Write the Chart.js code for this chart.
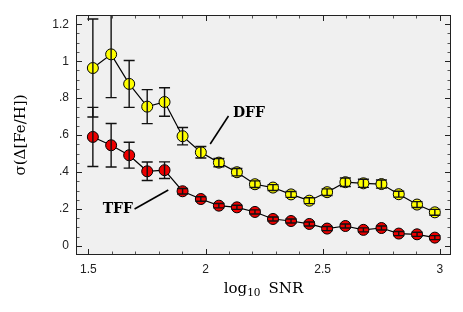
<!DOCTYPE html>
<html>
<head>
<meta charset="utf-8">
<script src="https://cdn.jsdelivr.net/npm/chart.js@4/dist/chart.umd.min.js"></script>
<style>
  html, body { margin: 0; padding: 0; background: #ffffff; }
  #wrap { width: 463px; height: 312px; position: relative; }
</style>
</head>
<body>
<div id="wrap"><canvas id="c" width="463" height="312"></canvas></div>
<script>
// ---- data ----
const logSNR = [1.519, 1.597, 1.674, 1.751, 1.825, 1.902, 1.980, 2.057, 2.134, 2.211,
                2.288, 2.365, 2.443, 2.519, 2.597, 2.674, 2.751, 2.825, 2.903, 2.979];
const dffSigma = [0.963, 1.037, 0.877, 0.754, 0.779, 0.594, 0.507, 0.451, 0.399, 0.334,
                  0.316, 0.279, 0.245, 0.291, 0.345, 0.339, 0.335, 0.280, 0.224, 0.182];
const dffErr = [0.265, 0.234, 0.127, 0.092, 0.077, 0.047, 0.031, 0.022, 0.020, 0.018,
                0.016, 0.016, 0.016, 0.018, 0.023, 0.022, 0.022, 0.016, 0.016, 0.016];
const tffSigma = [0.590, 0.545, 0.491, 0.404, 0.410, 0.296, 0.254, 0.218, 0.209, 0.184,
                  0.146, 0.135, 0.119, 0.094, 0.108, 0.087, 0.097, 0.067, 0.063, 0.045];
const tffErr = [0.160, 0.118, 0.070, 0.050, 0.045, 0.015, 0.012, 0.012, 0.011, 0.011,
                0.011, 0.011, 0.011, 0.011, 0.011, 0.011, 0.011, 0.011, 0.011, 0.011];
const xTickValues = [1.5, 2, 2.5, 3];
const yTickValues = [0, 0.2, 0.4, 0.6, 0.8, 1.0, 1.2];
const seriesNames = ['DFF', 'TFF'];
const yTitle = 'σ(Δ[Fe/H])';
const xTitleParts = ['log', '10', 'SNR'];

// ---- plugins ----
const bgPlugin = {
  id: 'bg',
  beforeDraw(chart) {
    const {ctx, chartArea: a} = chart;
    ctx.save();
    ctx.fillStyle = '#f0f0f0';
    ctx.fillRect(a.left, a.top, a.right - a.left, a.bottom - a.top);
    ctx.restore();
  }
};

const errorBarPlugin = {
  id: 'errbars',
  afterDatasetsDraw(chart) {
    const {ctx, chartArea: a, scales: {x, y}} = chart;
    ctx.save();
    ctx.beginPath();
    ctx.rect(a.left, a.top, a.right - a.left, a.bottom - a.top);
    ctx.clip();
    ctx.strokeStyle = '#111';
    ctx.lineWidth = 1.4;
    chart.data.datasets.forEach(ds => {
      ds.data.forEach((p, i) => {
        const e = ds.errors[i];
        const px = x.getPixelForValue(p.x);
        const yt = y.getPixelForValue(p.y + e);
        const yb = y.getPixelForValue(p.y - e);
        const w = 5.5;
        ctx.beginPath();
        ctx.moveTo(px, yt); ctx.lineTo(px, yb);
        ctx.moveTo(px - w, yt); ctx.lineTo(px + w, yt);
        ctx.moveTo(px - w, yb); ctx.lineTo(px + w, yb);
        ctx.stroke();
      });
    });
    ctx.restore();
  }
};

const framePlugin = {
  id: 'frame',
  afterDraw(chart) {
    const {ctx, chartArea: a, scales: {x, y}} = chart;
    ctx.save();
    // ticks
    const xs = [];
    for (let k = 15; k <= 30; k++) xs.push({v: k / 10, major: k % 5 === 0});
    const ys = [];
    for (let k = 0; k <= 24; k++) ys.push({v: k * 0.05, major: k % 4 === 0});
    xs.forEach(t => {
      const px = Math.round(x.getPixelForValue(t.v)) + 0.5;
      const L = t.major ? 6 : 3.5;
      ctx.strokeStyle = t.major ? '#222' : '#555';
      ctx.lineWidth = 1;
      ctx.beginPath();
      ctx.moveTo(px, a.bottom); ctx.lineTo(px, a.bottom - L);
      ctx.moveTo(px, a.top); ctx.lineTo(px, a.top + L);
      ctx.stroke();
    });
    ys.forEach(t => {
      const py = Math.round(y.getPixelForValue(t.v)) + 0.5;
      const L = t.major ? 6 : 3.5;
      ctx.strokeStyle = t.major ? '#222' : '#555';
      ctx.lineWidth = 1;
      ctx.beginPath();
      ctx.moveTo(a.left, py); ctx.lineTo(a.left + L, py);
      ctx.moveTo(a.right, py); ctx.lineTo(a.right - L, py);
      ctx.stroke();
    });
    // frame
    ctx.strokeStyle = '#222';
    ctx.lineWidth = 1;
    ctx.strokeRect(Math.round(a.left) + 0.5, Math.round(a.top) + 0.5,
                   Math.round(a.right - a.left) - 1, Math.round(a.bottom - a.top) - 1);

    // annotations (series labels with leader lines), in data coordinates
    ctx.fillStyle = '#000';
    ctx.strokeStyle = '#000';
    ctx.lineWidth = 1.6;
    ctx.font = 'bold 14px "DejaVu Serif"';
    ctx.textBaseline = 'middle';
    ctx.textAlign = 'left';
    const ann = [
      {text: seriesNames[0], tx: 2.117, ty: 0.718, l: [[2.098, 0.703], [2.020, 0.552]]},
      {text: seriesNames[1], tx: 1.561, ty: 0.200, l: [[1.697, 0.200], [1.841, 0.303]]}
    ];
    ann.forEach(an => {
      ctx.fillText(an.text, x.getPixelForValue(an.tx), y.getPixelForValue(an.ty));
      ctx.beginPath();
      ctx.moveTo(x.getPixelForValue(an.l[0][0]), y.getPixelForValue(an.l[0][1]));
      ctx.lineTo(x.getPixelForValue(an.l[1][0]), y.getPixelForValue(an.l[1][1]));
      ctx.stroke();
    });

    // x title with subscript
    const big = '15px "DejaVu Serif"', small = '10.5px "DejaVu Serif"';
    ctx.textBaseline = 'alphabetic';
    ctx.font = big; const w1 = ctx.measureText(xTitleParts[0]).width;
    ctx.font = small; const w2 = ctx.measureText(xTitleParts[1]).width;
    ctx.font = big; const w3 = ctx.measureText(xTitleParts[2]).width;
    const gap = 8;
    const total = w1 + w2 + gap + w3;
    let sx = (a.left + a.right) / 2 - total / 2;
    const base = 293;
    ctx.fillStyle = '#000';
    ctx.font = big; ctx.fillText(xTitleParts[0], sx, base); sx += w1;
    ctx.font = small; ctx.fillText(xTitleParts[1], sx, base + 3); sx += w2 + gap;
    ctx.font = big; ctx.fillText(xTitleParts[2], sx, base);
    ctx.restore();
  }
};

function fmtTick(v) {
  if (Math.abs(v) < 1e-9) return '0';
  let s = (Math.round(v * 10) / 10).toString();
  if (s.startsWith('0.')) s = s.slice(1);
  return s;
}

const mkPts = (ys) => logSNR.map((xv, i) => ({x: xv, y: ys[i]}));

new Chart(document.getElementById('c'), {
  type: 'scatter',
  data: {
    datasets: [
      {
        label: seriesNames[0], data: mkPts(dffSigma), errors: dffErr,
        showLine: true, borderColor: '#000', borderWidth: 1.2,
        pointRadius: 5.5, pointHoverRadius: 5.5,
        pointBackgroundColor: '#ffff00', pointBorderColor: '#000', pointBorderWidth: 1
      },
      {
        label: seriesNames[1], data: mkPts(tffSigma), errors: tffErr,
        showLine: true, borderColor: '#000', borderWidth: 1.2,
        pointRadius: 5.5, pointHoverRadius: 5.5,
        pointBackgroundColor: '#ee0000', pointBorderColor: '#000', pointBorderWidth: 1
      }
    ]
  },
  options: {
    responsive: false,
    animation: false,
    devicePixelRatio: 1,
    layout: {padding: {top: 15, right: 12, left: 0, bottom: 0}},
    plugins: {legend: {display: false}, tooltip: {enabled: false}},
    scales: {
      x: {
        type: 'linear', min: 1.447, max: 3.048,
        grid: {display: false, drawTicks: false},
        border: {display: false},
        afterBuildTicks: s => { s.ticks = xTickValues.map(v => ({value: v})); },
        afterFit: s => { s.height = 57; },
        ticks: {
          padding: 7, color: '#222', maxRotation: 0,
          font: {family: '"Liberation Sans", Arial, sans-serif', size: 12},
          callback: v => fmtTick(v)
        },
        title: {display: false}
      },
      y: {
        type: 'linear', min: -0.049, max: 1.25,
        grid: {display: false, drawTicks: false},
        border: {display: false},
        afterBuildTicks: s => { s.ticks = yTickValues.map(v => ({value: v})); },
        afterFit: s => { s.width = 76; },
        ticks: {
          padding: 7, color: '#222',
          font: {family: '"Liberation Sans", Arial, sans-serif', size: 12},
          callback: v => fmtTick(v)
        },
        title: {
          display: true, text: yTitle, color: '#000',
          font: {family: '"DejaVu Serif"', size: 15},
          padding: {top: 12, bottom: 0}
        }
      }
    }
  },
  plugins: [bgPlugin, errorBarPlugin, framePlugin]
});
</script>
</body>
</html>
